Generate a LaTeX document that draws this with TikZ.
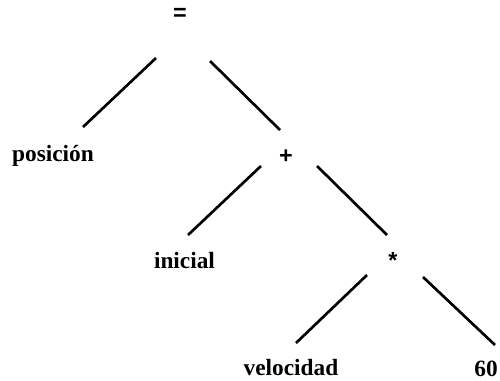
\documentclass[tikz,border=0pt]{standalone}
\usepackage{fontspec}
\setmainfont{Liberation Serif}
\newfontfamily\opfont{Liberation Sans}
\usetikzlibrary{calc}
\tikzset{
  lbl/.style={inner sep=0pt, anchor=base, font=\bfseries\fontsize{17.5}{20}\selectfont},
  op/.style={inner sep=0pt, anchor=base, font=\opfont\bfseries\fontsize{17.5}{20}\selectfont},
  edge/.style={line width=2pt, line cap=butt}
}
\begin{document}
\begin{tikzpicture}[x=0.75pt,y=-0.75pt]
\useasboundingbox (0,0) rectangle (500,380);
\node[op] (eq) at (180,20) {=};
\node[lbl] (pos) at (53,161) {posición};
\node[op] (plus) at (286,163) {+};
\node[lbl] (ini) at (184.5,268) {inicial};
\node[op] (star) at (393,268) {*};
\node[lbl] (vel) at (291,375) {velocidad};
\node[lbl] (sixty) at (486,376) {60};
\draw[edge] ($(eq.base)+(-24,38)$) -- ($(pos.base)+(30,-34)$);
\draw[edge] ($(eq.base)+(30,41)$) -- ($(plus.base)+(-6,-33)$);
\draw[edge] ($(plus.base)+(-25,3)$) -- ($(ini.base)+(3.5,-33)$);
\draw[edge] ($(plus.base)+(31,3)$) -- ($(star.base)+(-6,-33)$);
\draw[edge] ($(star.base)+(-26,7)$) -- ($(vel.base)+(5,-32)$);
\draw[edge] ($(star.base)+(30,9)$) -- ($(sixty.base)+(9,-31)$);
\end{tikzpicture}
\end{document}
